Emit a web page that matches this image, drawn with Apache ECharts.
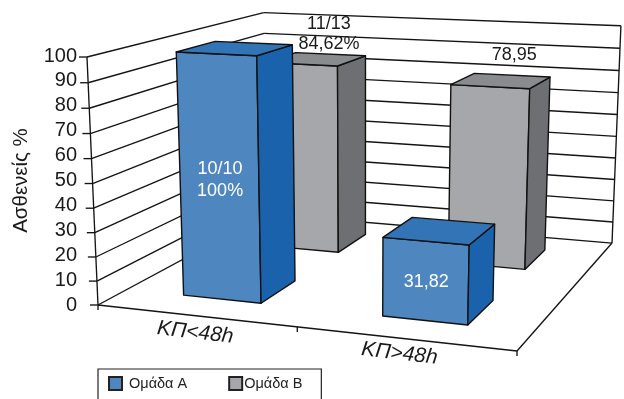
<!DOCTYPE html>
<html>
<head>
<meta charset="utf-8">
<style>html,body{margin:0;padding:0;background:#fff}#chart{width:624px;height:399px}</style>
<script src="https://cdn.jsdelivr.net/npm/echarts@6/dist/echarts.min.js"></script>
</head>
<body>
<div id="chart"></div>
<script>
// Chart content
const categories = ['ΚΠ<48h', 'ΚΠ>48h'];
const yTicks = [0, 10, 20, 30, 40, 50, 60, 70, 80, 90, 100];
const groupA = [100, 31.82];
const groupB = [84.62, 78.95];
const labelsA = ['10/10\n100%', '31,82'];
const labelsB = ['11/13\n84,62%', '78,95'];
const nameA = 'Ομάδα Α';
const nameB = 'Ομάδα Β';
const axisTitle = 'Ασθενείς %';

// Flat plot rectangle: the value axis lives here, and its pixels feed the 3D camera below
const GRID = { left: 78, top: 56, width: 542, height: 249 };

// Perspective camera: origin plus the vanishing points of the three box directions
const ORIGIN = [98, 305];
const VX = [-3989, -144], WX = -0.09299;
const VY = [364, 6294], WY = -0.03976;
const VZ = [971, -165], WZ = 0.24;

function project(x, y, z) {
  const w = 1 + WX * x + WY * y + WZ * z;
  return [
    (ORIGIN[0] + WX * x * VX[0] + WY * y * VY[0] + WZ * z * VZ[0]) / w,
    (ORIGIN[1] + WX * x * VX[1] + WY * y * VY[1] + WZ * z * VZ[1]) / w
  ];
}

const fracX = (api, c) => (api.coord([c, 0])[0] - GRID.left) / GRID.width;
const fracY = (api, v) => (GRID.top + GRID.height - api.coord([0, v])[1]) / GRID.height;

const LINE = '#141414';
const BAR_HALF_X = 0.1;
const BAR_HALF_Z = 0.105;
const rowCentre = [0.25, 0.76];

// Label nudges relative to the projected anchor of each bar, per category
const LABEL_LIFT_ABOVE = [5, 16];
const LABEL_SHIFT_ABOVE = 13;
const CATEGORY_SHIFT = [[0, 17], [-5, 15]];

function poly(points, fill, stroke, width) {
  return {
    type: 'polygon',
    shape: { points },
    style: { fill: fill, stroke: stroke, lineWidth: width, lineJoin: 'round' }
  };
}
function seg(a, b) {
  return {
    type: 'line',
    shape: { x1: a[0], y1: a[1], x2: b[0], y2: b[1] },
    style: { stroke: LINE, lineWidth: 1.35 }
  };
}

// Walls, floor, gridlines and ticks of the box
function renderFrame(params, api) {
  const v = api.value(1);
  const y = fracY(api, v);
  const children = [
    seg(project(0, y, 0), project(0, y, 1)),
    seg(project(0, y, 1), project(1, y, 1)),
    seg(project(0, y, 0), [project(0, y, 0)[0] - 8, project(0, y, 0)[1]])
  ];
  if (v === 0) {
    const top = fracY(api, 100);
    children.push(
      seg(project(0, 0, 0), project(0, top, 0)),
      seg(project(1, 0, 1), project(1, top, 1)),
      seg(project(0, 0, 0), project(1, 0, 0)),
      seg(project(1, 0, 0), project(1, 0, 1))
    );
    [0, 0.5, 1].forEach(function (t) {
      const p = project(t, 0, 0);
      children.push(seg(p, [p[0], p[1] + 5]));
    });
  }
  return { type: 'group', children };
}

function renderBar(row, colors, labels, above) {
  return function (params, api) {
    const c = api.value(0);
    const h = fracY(api, api.value(1));
    const cx = fracX(api, c);
    const x0 = cx - BAR_HALF_X, x1 = cx + BAR_HALF_X;
    const z0 = rowCentre[row] - BAR_HALF_Z, z1 = rowCentre[row] + BAR_HALF_Z;
    const faces = [
      poly([project(x0, 0, z0), project(x1, 0, z0), project(x1, h, z0), project(x0, h, z0)], colors.front, '#111', 1.4),
      poly([project(x1, 0, z0), project(x1, 0, z1), project(x1, h, z1), project(x1, h, z0)], colors.side, '#111', 1.4),
      poly([project(x0, h, z0), project(x1, h, z0), project(x1, h, z1), project(x0, h, z1)], colors.top, '#111', 1.4)
    ];
    const anchor = above
      ? project(cx, h, rowCentre[row])
      : project(cx, h / 2, z0);
    faces.push({
      type: 'text',
      style: {
        text: labels[c],
        x: anchor[0] + (above ? LABEL_SHIFT_ABOVE : 1),
        y: above ? anchor[1] - LABEL_LIFT_ABOVE[c] : anchor[1] + 1,
        align: 'center',
        verticalAlign: above ? 'bottom' : 'middle',
        fill: above ? '#1a1a1a' : '#ffffff',
        fontFamily: 'Liberation Sans',
        fontSize: 18,
        lineHeight: above ? 20 : 22
      }
    });
    return { type: 'group', children: faces };
  };
}

// Category names run along the front floor edge
function renderCategory(params, api) {
  const c = api.value(0);
  const p = project(fracX(api, c), 0, 0);
  return {
    type: 'text',
    x: p[0] + CATEGORY_SHIFT[c][0],
    y: p[1] + CATEGORY_SHIFT[c][1],
    rotation: -0.115,
    style: {
      text: categories[c],
      x: 0,
      y: 0,
      align: 'center',
      verticalAlign: 'middle',
      fill: '#1a1a1a',
      fontFamily: 'Liberation Sans',
      fontStyle: 'italic',
      fontSize: 21
    }
  };
}

const colorsA = { front: '#4e86bf', side: '#1a63ac', top: '#3274b6' };
const colorsB = { front: '#a6a7ab', side: '#6e6f72', top: '#8a8b8e' };

const chart = echarts.init(document.getElementById('chart'), null, { renderer: 'canvas' });
chart.setOption({
  animation: false,
  backgroundColor: '#ffffff',
  grid: GRID,
  legend: {
    left: 98,
    top: 369,
    orient: 'horizontal',
    padding: [7, 19, 30, 10],
    itemWidth: 13,
    itemHeight: 13,
    itemGap: 41,
    borderColor: '#222',
    borderWidth: 1.2,
    backgroundColor: '#fff',
    textStyle: { fontFamily: 'Liberation Sans', fontSize: 14.5, color: '#222' },
    data: [
      { name: nameA, icon: 'rect', textStyle: { padding: [0, 0, 0, 2] } },
      { name: nameB, icon: 'rect', textStyle: { padding: [0, 0, 0, -3] } }
    ]
  },
  xAxis: { type: 'category', data: categories, show: false },
  yAxis: {
    type: 'value',
    min: 0,
    max: 100,
    interval: 10,
    name: axisTitle,
    nameLocation: 'middle',
    nameRotate: 90,
    nameGap: 46,
    nameTextStyle: { fontFamily: 'Liberation Sans', fontSize: 20.5, color: '#1a1a1a' },
    axisLine: { show: false },
    axisTick: { show: false },
    splitLine: { show: false },
    axisLabel: {
      show: true,
      margin: 1,
      fontFamily: 'Liberation Sans',
      fontSize: 20,
      color: '#1a1a1a',
      formatter: function (v) { return yTicks.includes(v) ? String(v) : ''; }
    }
  },
  series: [
    {
      type: 'custom',
      name: 'frame',
      silent: true,
      renderItem: renderFrame,
      data: yTicks.map(v => [0, v])
    },
    {
      type: 'custom',
      name: nameB,
      silent: true,
      itemStyle: { color: colorsB.front, borderColor: '#222', borderWidth: 1.2 },
      renderItem: renderBar(1, colorsB, labelsB, true),
      data: groupB.map((v, i) => [i, v])
    },
    {
      type: 'custom',
      name: nameA,
      silent: true,
      itemStyle: { color: colorsA.front, borderColor: '#222', borderWidth: 1.2 },
      renderItem: renderBar(0, colorsA, labelsA, false),
      data: groupA.map((v, i) => [i, v])
    },
    {
      type: 'custom',
      name: 'categories',
      silent: true,
      renderItem: renderCategory,
      data: categories.map((c, i) => [i, 0])
    }
  ]
});
</script>
</body>
</html>
